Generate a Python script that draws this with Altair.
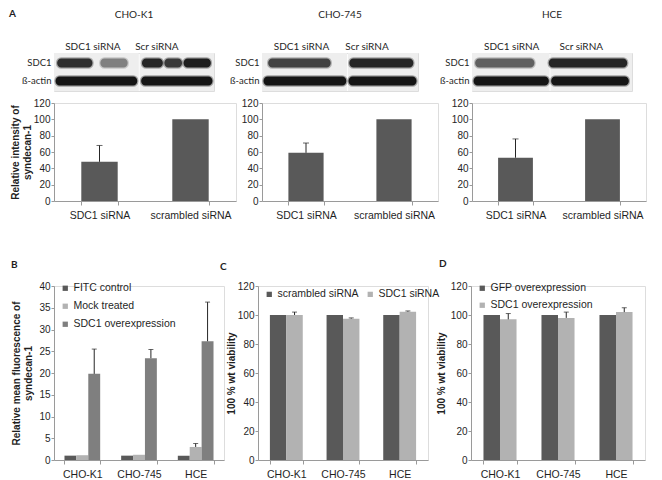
import altair as alt
import pandas as pd

# ---------------- data ----------------
a_lines = ["CHO-K1", "CHO-745", "HCE"]
a_conditions = ["SDC1 siRNA", "scrambled siRNA"]
a_ticks = [0, 20, 40, 60, 80, 100, 120]
a_cho_k1 = [48, 100]
a_cho_k1_err = [20, 0]
a_cho_745 = [59, 100]
a_cho_745_err = [12, 0]
a_hce = [53, 100]
a_hce_err = [23, 0]

blot_rows = ["SDC1", "ß-actin"]
blot_groups = ["SDC1 siRNA", "Scr siRNA"]
# western-blot band segments: [start, end, darkness] in lane units 0-10
blot_label_at_cho_k1 = [2.4, 6.4]
blot_frames_cho_k1 = [[0.0, 5.3], [5.35, 10.0]]
blot_sdc1_cho_k1 = [[0.2, 2.4, 0.85], [2.9, 4.6, 0.45], [5.5, 6.8, 0.9], [6.9, 8.0, 0.8], [8.1, 9.8, 0.95]]
blot_actin_cho_k1 = [[0.1, 5.2, 1.0], [5.45, 9.9, 1.0]]
blot_label_at_cho_745 = [2.5, 6.7]
blot_frames_cho_745 = [[0.0, 5.45], [5.5, 10.0]]
blot_sdc1_cho_745 = [[0.4, 4.4, 0.75], [5.6, 9.7, 0.9]]
blot_actin_cho_745 = [[0.1, 5.4, 1.0], [5.55, 9.9, 1.0]]
blot_label_at_hce = [2.45, 6.8]
blot_frames_hce = [[0.0, 4.85], [4.9, 10.0]]
blot_sdc1_hce = [[0.2, 3.9, 0.6], [4.8, 9.7, 0.9]]
blot_actin_hce = [[0.1, 4.8, 1.0], [4.95, 9.8, 1.0]]

bottom_lines = ["CHO-K1", "CHO-745", "HCE"]

b_series = ["FITC control", "Mock treated", "SDC1 overexpression"]
b_fitc = [1.0, 1.0, 1.0]
b_fitc_err = [0, 0, 0]
b_mock = [1.1, 1.2, 3.0]
b_mock_err = [0, 0, 0.8]
b_sdc1 = [19.8, 23.4, 27.3]
b_sdc1_err = [5.7, 2.0, 9.0]
b_ticks = [0, 5, 10, 15, 20, 25, 30, 35, 40]

c_series = ["scrambled siRNA", "SDC1 siRNA"]
c_scr = [100, 100, 100]
c_scr_err = [0, 0, 0]
c_sdc1 = [100, 97.5, 102.3]
c_sdc1_err = [2.0, 0.5, 0.5]

d_series = ["GFP overexpression", "SDC1 overexpression"]
d_gfp = [100, 100, 100]
d_gfp_err = [0, 0, 0]
d_sdc1 = [97, 98, 102]
d_sdc1_err = [4, 4, 3]

viab_ticks = [0, 20, 40, 60, 80, 100, 120]

# ---------------- styles ----------------
DARK = "#595959"
MID = "#7f7f7f"
LIGHT = "#b2b2b2"
ERR = "#262626"
AXC = "#9a9a9a"
TXT = "#1f1f1f"
AX = "Liberation Sans"
CAL = "Lato"


def letter_layer(letter, dx, dy):
    return alt.Chart(pd.DataFrame({"t": [letter]})).mark_text(
        font=CAL, fontSize=10, fontWeight="bold", align="left", baseline="middle", color=TXT
    ).encode(x=alt.value(dx), y=alt.value(dy), text="t:N")


def blot_chart(title, frames, sdc1, actin, label_at, width, label_ext, letter=None):
    fr = pd.DataFrame(frames, columns=["x0", "x1"])
    rows = []
    for r, lst in ((blot_rows[0], sdc1), (blot_rows[1], actin)):
        for s in lst:
            rows.append({"row": r, "x0": s[0], "x1": s[1], "level": s[2]})
    seg = pd.DataFrame(rows)
    mid = sum(label_at) / 2
    expr = f"datum.value < {mid} ? '{blot_groups[0]}' : '{blot_groups[1]}'"
    xs = alt.Scale(domain=[0, 10], nice=False, zero=False)
    xax = alt.Axis(orient="top", values=label_at, labelExpr=expr, title=None, domain=False,
                   ticks=False, grid=False, labelFont=CAL, labelFontSize=10, labelColor=TXT,
                   labelPadding=2, labelFlush=False)
    xenc = alt.X("x0:Q", scale=xs, axis=xax)
    yenc = alt.Y(
        "row:N", sort=blot_rows,
        scale=alt.Scale(paddingInner=0.5, paddingOuter=0.3),
        axis=alt.Axis(title=None, domain=False, ticks=False, grid=False, labelFont=CAL,
                      labelFontSize=9.5, labelColor=TXT, labelPadding=3, minExtent=label_ext),
    )
    cs = alt.Scale(domain=[0, 1], range=["#e8e8e8", "#151515"])
    bg = alt.Chart(fr).mark_rect(color="#eeeeee").encode(x=xenc, x2="x1:Q")
    core = alt.Chart(seg).mark_rect(cornerRadius=4, strokeWidth=2.5, strokeOpacity=0.35).encode(
        x=xenc, x2="x1:Q", y=yenc,
        color=alt.Color("level:Q", scale=cs, legend=None),
        stroke=alt.Stroke("level:Q", scale=cs, legend=None))
    # panel heading (cell line name), centred over the blot
    head = alt.Chart(pd.DataFrame({"t": [title], "pos": [5.0]})).mark_text(
        font=CAL, fontSize=10, color=TXT, baseline="middle"
    ).encode(x=alt.X("pos:Q", scale=xs, axis=xax), y=alt.value(-38), text="t:N")
    layers = [bg, core, head]
    if letter:
        layers.append(letter_layer(letter, -45, -39))
    return alt.layer(*layers).properties(width=width, height=38)


def x_axis():
    return alt.Axis(title=None, labelAngle=0, tickBand="extent", tickSize=4, tickColor=AXC,
                    domainColor=AXC, labelFont=AX, labelFontSize=10.5, labelColor=TXT,
                    labelPadding=5, grid=False)


def y_axis(values, title, min_ext):
    return alt.Axis(values=values, title=title, tickSize=3, tickColor=AXC, domainColor=AXC,
                    labelFont=AX, labelFontSize=10, labelColor=TXT, labelPadding=1, grid=False,
                    titleFont=AX, titleFontSize=10, titleFontWeight="bold", titleColor=TXT,
                    titlePadding=1, minExtent=min_ext)


def a_bar(values, errs, width, ytitle, min_ext):
    df = pd.DataFrame({"cond": a_conditions, "value": values, "err": errs})
    df["top"] = df["value"] + df["err"]
    x = alt.X("cond:N", sort=a_conditions, scale=alt.Scale(paddingInner=0.6, paddingOuter=0.3), axis=x_axis())
    ys = alt.Scale(domain=[0, 120], nice=False)
    ax = y_axis(a_ticks, ytitle, min_ext)
    y = alt.Y("value:Q", scale=ys, axis=ax)
    bars = alt.Chart(df).mark_bar(color=DARK).encode(x=x, y=y)
    e = df[df["err"] > 0]
    rule = alt.Chart(e).mark_rule(color=ERR).encode(x=x, y=y, y2="top:Q")
    cap = alt.Chart(e).mark_tick(color=ERR, size=6, thickness=1).encode(
        x=x, y=alt.Y("top:Q", scale=ys, axis=ax))
    return alt.layer(bars, rule, cap).properties(width=width, height=98)


def grouped(series, values, errors, colors, ymax, ticks, ytitle, width, gpad, legend, letter, lxy, min_ext):
    rows = []
    for s, v, e in zip(series, values, errors):
        for line, vv, ee in zip(bottom_lines, v, e):
            rows.append({"line": line, "series": s, "value": vv, "err": ee, "top": vv + ee})
    df = pd.DataFrame(rows)
    x = alt.X("line:N", sort=bottom_lines, scale=alt.Scale(paddingInner=gpad, paddingOuter=gpad / 2), axis=x_axis())
    xo = alt.XOffset("series:N", sort=series, scale=alt.Scale(paddingInner=0, paddingOuter=0))
    ys = alt.Scale(domain=[0, ymax], nice=False)
    ax = y_axis(ticks, ytitle, min_ext)
    y = alt.Y("value:Q", scale=ys, axis=ax)
    color = alt.Color("series:N", sort=series, scale=alt.Scale(domain=series, range=colors), legend=legend)
    bars = alt.Chart(df).mark_bar().encode(x=x, xOffset=xo, y=y, color=color)
    e = df[df["err"] > 0]
    rule = alt.Chart(e).mark_rule(color=ERR).encode(x=x, xOffset=xo, y=y, y2="top:Q")
    cap = alt.Chart(e).mark_tick(color=ERR, size=5, thickness=1).encode(
        x=x, xOffset=xo, y=alt.Y("top:Q", scale=ys, axis=ax))
    lt = letter_layer(letter, lxy[0], lxy[1])
    return alt.layer(bars, rule, cap, lt).properties(width=width, height=174)


def leg(x, y, direction="vertical", row_pad=7):
    return alt.Legend(title=None, orient="none", legendX=x, legendY=y, direction=direction,
                      symbolType="square", symbolSize=28, symbolStrokeWidth=0,
                      labelFont=AX, labelFontSize=10.5, labelColor=TXT, labelOffset=3,
                      rowPadding=row_pad, columnPadding=6, padding=0)


RES = dict(color="independent", stroke="independent", xOffset="independent")

col1 = alt.vconcat(
    blot_chart(a_lines[0], blot_frames_cho_k1, blot_sdc1_cho_k1, blot_actin_cho_k1, blot_label_at_cho_k1, 160, 20, "A"),
    a_bar(a_cho_k1, a_cho_k1_err, 182, ["Relative intensity of", "syndecan-1"], 20),
    spacing=5,
).resolve_scale(**RES)
col2 = alt.vconcat(
    blot_chart(a_lines[1], blot_frames_cho_745, blot_sdc1_cho_745, blot_actin_cho_745, blot_label_at_cho_745, 156, 20),
    a_bar(a_cho_745, a_cho_745_err, 176, None, 20),
    spacing=5,
).resolve_scale(**RES)
col3 = alt.vconcat(
    blot_chart(a_lines[2], blot_frames_hce, blot_sdc1_hce, blot_actin_hce, blot_label_at_hce, 160, 40),
    a_bar(a_hce, a_hce_err, 174, None, 20),
    spacing=5,
).resolve_scale(**RES)
row1 = alt.hconcat(col1, col2, col3, spacing=-8).resolve_scale(**RES)

pb = grouped(b_series, [b_fitc, b_mock, b_sdc1], [b_fitc_err, b_mock_err, b_sdc1_err],
             [DARK, LIGHT, MID], 40, b_ticks, ["Relative mean fluorescence of", "syndecan-1"],
             170, 0.37, leg(6, -3, row_pad=7), "B", (-43, -21), 20)
pc = grouped(c_series, [c_scr, c_sdc1], [c_scr_err, c_sdc1_err],
             [DARK, LIGHT], 120, viab_ticks, "100 % wt viability",
             170, 0.42, leg(6, 3, direction="horizontal"), "C", (-38, -19), 20)
pd_ = grouped(d_series, [d_gfp, d_sdc1], [d_gfp_err, d_sdc1_err],
              [DARK, LIGHT], 120, viab_ticks, "100 % wt viability",
              174, 0.43, leg(6, -3, row_pad=6), "D", (-32, -22), 24)
row2 = alt.hconcat(pb, pc, pd_, spacing=-6).resolve_scale(**RES)

chart = alt.vconcat(row1, row2, spacing=37).resolve_scale(**RES).properties(
    padding={"left": 0, "top": 0, "right": 0, "bottom": 0}
).configure_view(stroke=None).configure(background="white")

chart.save("out.html", embed_options={"renderer": "svg", "actions": False})
